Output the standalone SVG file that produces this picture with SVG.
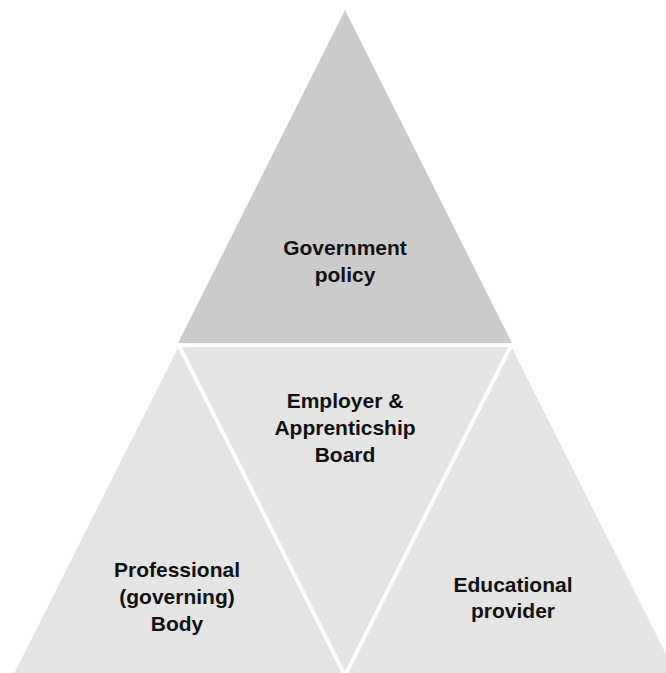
<svg xmlns="http://www.w3.org/2000/svg" width="666" height="673" viewBox="0 0 666 673">
<style>
.top{fill:#cbcbcb}
.low{fill:#e4e4e4}
text{font-family:"Liberation Sans",Arial,sans-serif;font-weight:bold;font-size:21px;fill:#111;text-anchor:middle}
</style>
<rect width="666" height="673" fill="#fff"/>
<g id="government">
<polygon class="top" points="345,10 512,343 178,343"/>
<text x="345" y="255">Government</text>
<text x="345" y="282">policy</text>
</g>
<g id="employer">
<polygon class="low" points="182,347 508,347 345,671"/>
<text x="345" y="408">Employer &amp;</text>
<text x="345" y="435">Apprenticship</text>
<text x="345" y="462">Board</text>
</g>
<g id="professional">
<polygon class="low" points="178,348 341.5,673 14.5,673"/>
<text x="177" y="577">Professional</text>
<text x="177" y="604">(governing)</text>
<text x="177" y="631">Body</text>
</g>
<g id="educational">
<polygon class="low" points="512,348 675.5,673 348.5,673"/>
<text x="513" y="592">Educational</text>
<text x="513" y="618">provider</text>
</g>
<g id="connectors"/>
</svg>
